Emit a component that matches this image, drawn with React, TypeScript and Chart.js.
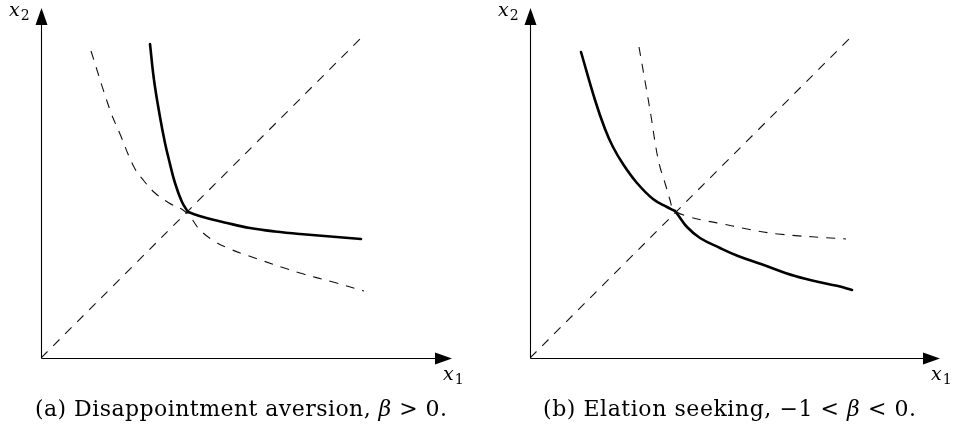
import React, { useEffect, useRef } from "react";
import { Chart, registerables } from "chart.js";

Chart.register(...registerables);

type Pt = [number, number];

// ---------- data (units: 1 unit = 1 pixel of the reference plot) ----------
const diagonal: Pt[] = [[0, 0], [320, 320]];

// panel (a): disappointment aversion
const aSolidLeft: Pt[] = [[109, 314], [113, 278], [119, 241], [124, 215], [128, 198], [134, 175], [141, 156], [147, 146]];
const aSolidRight: Pt[] = [[147, 146], [162, 141], [186, 135], [209, 130], [234, 126.5], [259, 124], [320, 119]];
const aDashed: Pt[] = [[50, 307], [69, 248], [79, 224], [93, 191], [103, 177], [114, 165], [128, 155], [142, 148], [150, 140], [159, 128], [173, 117], [189, 109], [205, 103], [259, 85], [292, 76], [323, 67]];

// panel (b): elation seeking
const bSolidLeft: Pt[] = [[51, 306], [65, 258], [75, 229], [83, 211], [93, 194], [107, 175], [123, 159], [137, 151], [145, 147]];
const bSolidRight: Pt[] = [[145, 147], [148, 143], [157, 131], [170, 120], [190, 110], [208, 102], [231, 94], [265, 82], [298, 74], [308, 72], [322, 68]];
const bDashed: Pt[] = [[109, 311], [115, 277], [121, 242], [126, 210], [130, 191], [135, 175], [140, 158], [144, 148], [160, 141], [177, 137], [193, 134], [212, 130], [248, 124], [316, 119]];

// axis ranges
const yMax = 350;
const aXMax = 411;
const bXMax = 410;

// texts
const axisX = "x";
const sub1 = "1";
const sub2 = "2";
const captionA = ["(a) Disappointment aversion, ", "β", " > 0."];
const captionB = ["(b) Elation seeking, −1 < ", "β", " < 0."];

const SERIF = "'DejaVu Serif', serif";

const toXY = (arr: Pt[]) => arr.map(([x, y]) => ({ x, y }));

const dashedStyle = (data: Pt[]) => ({
  data: toXY(data),
  borderColor: "#111",
  borderWidth: 1.1,
  borderDash: [9, 8],
  pointRadius: 0,
  showLine: true,
  tension: 0.4,
  fill: false,
});
const solidStyle = (data: Pt[]) => ({
  data: toXY(data),
  borderColor: "#000",
  borderWidth: 2.6,
  pointRadius: 0,
  showLine: true,
  tension: 0.4,
  fill: false,
  borderCapStyle: "round" as const,
});

function drawCaption(ctx: CanvasRenderingContext2D, runs: string[], x0: number, width: number, baseline: number) {
  const size = 22;
  const fonts = runs.map((_, i) => (i === 1 ? `italic ${size}px ${SERIF}` : `${size}px ${SERIF}`));
  let natural = 0;
  let count = 0;
  runs.forEach((r, i) => {
    ctx.font = fonts[i];
    for (const ch of r) {
      natural += ctx.measureText(ch).width;
      count++;
    }
  });
  const ls = (width - natural) / Math.max(1, count - 1);
  let x = x0;
  ctx.fillStyle = "#000";
  ctx.textBaseline = "alphabetic";
  ctx.textAlign = "left";
  runs.forEach((r, i) => {
    ctx.font = fonts[i];
    for (const ch of r) {
      ctx.fillText(ch, x, baseline);
      x += ctx.measureText(ch).width + ls;
    }
  });
}

function drawLabel(ctx: CanvasRenderingContext2D, sub: string, x: number, baseline: number) {
  ctx.fillStyle = "#000";
  ctx.textBaseline = "alphabetic";
  ctx.textAlign = "left";
  ctx.font = `italic 19px ${SERIF}`;
  ctx.fillText(axisX, x, baseline);
  const w = ctx.measureText(axisX).width;
  ctx.font = `14px ${SERIF}`;
  ctx.fillText(sub, x + w + 1, baseline + 4);
}

const axesPlugin = {
  id: "axesArrows",
  afterDatasetsDraw(chart: any, _args: any, opts: any) {
    const { ctx, scales } = chart;
    const xs = scales.x;
    const ys = scales.y;
    const ox = Math.round(xs.getPixelForValue(0)) + 0.5;
    const oy = Math.round(ys.getPixelForValue(0)) + 0.5;
    const tx = xs.getPixelForValue(xs.max);
    const ty = ys.getPixelForValue(ys.max);
    const L = 17;
    const H = 6;
    ctx.save();
    ctx.strokeStyle = "#000";
    ctx.fillStyle = "#000";
    ctx.lineWidth = 1.1;
    ctx.beginPath();
    ctx.moveTo(ox, oy);
    ctx.lineTo(tx - L + 1, oy);
    ctx.moveTo(ox, oy);
    ctx.lineTo(ox, ty + L - 1);
    ctx.stroke();
    ctx.beginPath();
    ctx.moveTo(tx, oy);
    ctx.lineTo(tx - L, oy - H);
    ctx.lineTo(tx - L, oy + H);
    ctx.closePath();
    ctx.fill();
    ctx.beginPath();
    ctx.moveTo(ox, ty);
    ctx.lineTo(ox - H, ty + L);
    ctx.lineTo(ox + H, ty + L);
    ctx.closePath();
    ctx.fill();

    drawLabel(ctx, sub2, opts.x2Left, 16);
    drawLabel(ctx, sub1, opts.x1Left, 380);
    drawCaption(ctx, opts.caption, opts.capLeft, opts.capWidth, 416);
    ctx.restore();
  },
};

function makeConfig(xMax: number, padLeft: number, padRight: number, datasets: any[], pluginOpts: any): any {
  return {
    type: "scatter",
    data: { datasets },
    options: {
      animation: false,
      responsive: false,
      devicePixelRatio: 1,
      layout: { padding: { left: padLeft, right: padRight, top: 8, bottom: 75 } },
      scales: {
        x: { type: "linear", min: 0, max: xMax, display: false },
        y: { type: "linear", min: 0, max: yMax, display: false },
      },
      plugins: {
        legend: { display: false },
        tooltip: { enabled: false },
        axesArrows: pluginOpts,
      },
      elements: { line: { borderJoinStyle: "round" } },
    },
    plugins: [axesPlugin],
  };
}

export default function App() {
  const refA = useRef<HTMLCanvasElement>(null);
  const refB = useRef<HTMLCanvasElement>(null);

  useEffect(() => {
    const chartA = new Chart(
      refA.current!,
      makeConfig(
        aXMax,
        41,
        26,
        [dashedStyle(diagonal), dashedStyle(aDashed), solidStyle(aSolidLeft), solidStyle(aSolidRight)],
        { x2Left: 9, x1Left: 443, caption: captionA, capLeft: 35, capWidth: 412 }
      )
    );
    const chartB = new Chart(
      refB.current!,
      makeConfig(
        bXMax,
        52,
        16,
        [dashedStyle(diagonal), dashedStyle(bDashed), solidStyle(bSolidLeft), solidStyle(bSolidRight)],
        { x2Left: 20, x1Left: 453, caption: captionB, capLeft: 65, capWidth: 373 }
      )
    );
    return () => {
      chartA.destroy();
      chartB.destroy();
    };
  }, []);

  return (
    <div style={{ position: "absolute", left: 0, top: 0, width: 956, height: 433, background: "#fff" }}>
      <canvas ref={refA} width={478} height={433} style={{ position: "absolute", left: 0, top: 0, width: 478, height: 433 }} />
      <canvas ref={refB} width={478} height={433} style={{ position: "absolute", left: 478, top: 0, width: 478, height: 433 }} />
    </div>
  );
}
